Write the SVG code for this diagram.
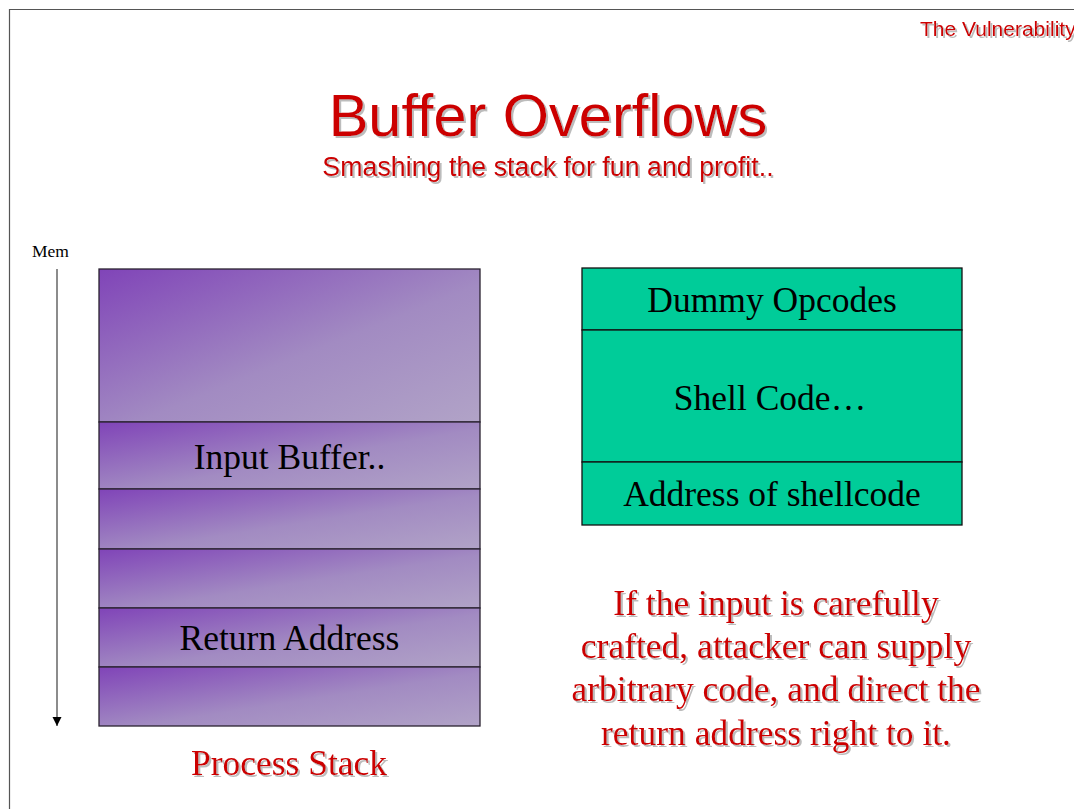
<svg xmlns="http://www.w3.org/2000/svg" width="1074" height="809" viewBox="0 0 1074 809">
<style>
.arial{font-family:"Liberation Sans",Arial,sans-serif;}
.times{font-family:"Liberation Serif","Times New Roman",serif;}
.red{fill:#cc0000;filter:url(#shadow);}
.lbl{font-size:35.5px;fill:#000;text-anchor:middle;}
.row{fill:url(#purple);stroke:#2a2230;stroke-width:1.3;}
.teal{fill:#00cc99;stroke:#111;stroke-width:1.3;}
</style>
<defs>
<linearGradient id="purple" x1="0" y1="0" x2="1" y2="1">
<stop offset="0" stop-color="#8044b8"/>
<stop offset="0.55" stop-color="#a28bc2"/>
<stop offset="1" stop-color="#b1a3c7"/>
</linearGradient>
<filter id="shadow" x="-5%" y="-10%" width="115%" height="130%">
<feDropShadow dx="2" dy="2" stdDeviation="0.6" flood-color="#b0b0b0" flood-opacity="0.85"/>
</filter>
<marker id="ah" markerWidth="10" markerHeight="10" refX="9" refY="4.5" orient="auto" markerUnits="userSpaceOnUse">
<path d="M0,0 L9,4.5 L0,9 Z" fill="#000"/>
</marker>
</defs>
<rect x="0" y="0" width="1074" height="809" fill="#fff"/>
<g id="frame">
<path d="M9.5,809 L9.5,9.5 L1074,9.5" fill="none" stroke="#555" stroke-width="1.2"/>
</g>
<g id="header">
<text class="arial red" x="920" y="36" font-size="21">The Vulnerability</text>
<text class="arial red" x="548" y="136" font-size="59.5" text-anchor="middle">Buffer Overflows</text>
<text class="arial red" x="548" y="176" font-size="26.8" text-anchor="middle">Smashing the stack for fun and profit..</text>
</g>
<g id="mem-axis">
<text class="times" x="32" y="257" font-size="17.5" fill="#000">Mem</text>
</g>
<g id="connectors">
<line x1="57" y1="269" x2="57" y2="726" stroke="#666" stroke-width="1.5" marker-end="url(#ah)"/>
</g>
<g id="process-stack">
<rect class="row" x="99" y="269" width="381" height="153"/>
<rect class="row" x="99" y="422" width="381" height="67"/>
<rect class="row" x="99" y="489" width="381" height="60"/>
<rect class="row" x="99" y="549" width="381" height="59"/>
<rect class="row" x="99" y="608" width="381" height="59"/>
<rect class="row" x="99" y="667" width="381" height="59"/>
<text class="times lbl" x="289.5" y="469">Input Buffer..</text>
<text class="times lbl" x="289.5" y="650">Return Address</text>
<text class="times red" x="289" y="775" font-size="35.5" text-anchor="middle">Process Stack</text>
</g>
<g id="payload">
<rect class="teal" x="582" y="268" width="380" height="62"/>
<rect class="teal" x="582" y="330" width="380" height="132"/>
<rect class="teal" x="582" y="462" width="380" height="63"/>
<text class="times lbl" x="772" y="312">Dummy Opcodes</text>
<text class="times lbl" x="770" y="410">Shell Code…</text>
<text class="times lbl" x="772" y="506">Address of shellcode</text>
</g>
<g id="explanation">
<text class="times red" x="776" y="615" font-size="35.5" text-anchor="middle">If the input is carefully</text>
<text class="times red" x="776" y="658" font-size="35.5" text-anchor="middle">crafted, attacker can supply</text>
<text class="times red" x="776" y="701" font-size="35.5" text-anchor="middle">arbitrary code, and direct the</text>
<text class="times red" x="776" y="745" font-size="35.5" text-anchor="middle">return address right to it.</text>
</g>
</svg>
